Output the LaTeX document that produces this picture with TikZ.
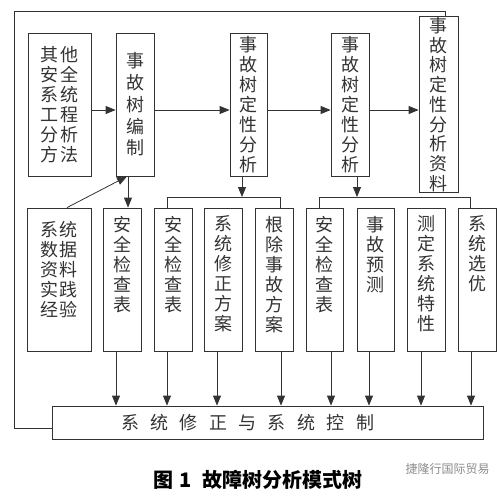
\documentclass[tikz,border=0pt]{standalone}
\usepackage{fontspec}
\newfontfamily\cjk{Noto Sans CJK SC}
\usetikzlibrary{arrows.meta}

\newcommand{\gp}{\hspace{11.4pt}}
\newcommand{\toptext}[2]{\parbox[c][127pt][t]{#1}{\centering #2}}

\begin{document}
\begin{tikzpicture}[
  x=1pt, y=-1pt,
  >={Triangle[length=10pt,width=8pt]},
  every node/.style={font=\cjk\fontsize{18}{20}\selectfont, text=black!80},
  box/.style={draw=black!80,line width=0.8pt,inner sep=1pt,minimum height=143pt,align=center},
  narrow/.style={box,minimum width=38pt},
  wire/.style={draw=black!80,line width=0.8pt},
  arrow/.style={wire,->}
]
  \useasboundingbox (0,0) rectangle (502,492);

  % top row
  \node[box,minimum width=63pt] (other) at (59.5,104.5)
    {其\hspace{2pt}他\\安\hspace{2pt}全\\系\hspace{2pt}统\\工\hspace{2pt}程\\分\hspace{2pt}析\\方\hspace{2pt}法};
  \node[narrow,font=\cjk\fontsize{18}{21.7}\selectfont] (build) at (135,104.5) {事\\故\\树\\编\\制};
  \node[narrow,minimum width=37pt] (qual1) at (248.5,104.5) {事\\故\\树\\定\\性\\分\\析};
  \node[narrow] (qual2) at (350,104.5) {事\\故\\树\\定\\性\\分\\析};
  \node[narrow,minimum width=39pt,minimum height=165pt,font=\cjk\fontsize{18}{19.7}\selectfont]
    (result) at (438.5,104.5) {事\\故\\树\\定\\性\\分\\析\\资\\料};

  % lower row
  \node[box,minimum width=64pt] (exp) at (59,279.5)
    {\toptext{44pt}{\vspace*{5pt}系\hspace{2pt}统\\数\hspace{2pt}据\\资\hspace{2pt}料\\实\hspace{2pt}践\\经\hspace{2pt}验}};
  \node[narrow] (chk1) at (122.5,279.5) {\toptext{20pt}{安\\全\\检\\查\\表}};
  \node[narrow] (chk2) at (173,279.5) {\toptext{20pt}{安\\全\\检\\查\\表}};
  \node[narrow] (revise) at (223,279.5) {\toptext{20pt}{系\\统\\修\\正\\方\\案}};
  \node[narrow] (elim) at (274,279.5) {\toptext{20pt}{根\\除\\事\\故\\方\\案}};
  \node[narrow,minimum width=37pt] (chk3) at (324.5,279.5) {\toptext{20pt}{安\\全\\检\\查\\表}};
  \node[narrow,minimum width=37pt] (pred) at (375.5,279.5) {\toptext{20pt}{事\\故\\预\\测}};
  \node[narrow] (measure) at (426,279.5) {\toptext{20pt}{测\\定\\系\\统\\特\\性}};
  \node[narrow] (opt) at (477,279.5) {\toptext{20pt}{系\\统\\选\\优}};

  % bottom box and caption
  \node[draw=black!80,line width=0.8pt,inner sep=1pt,minimum width=431pt,minimum height=33pt]
    (ctrl) at (267.5,422.5)
    {\makebox[425pt][l]{\hspace{66pt}系\gp 统\gp 修\gp 正\gp 与\gp 系\gp 统\gp 控\gp 制}};
  \node[anchor=west,font=\cjk\bfseries\fontsize{20}{24}\selectfont,text=black] (caption) at (150,480)
    {图\hspace{6pt}1\hspace{11pt}故障树分析模式树};
  \node[anchor=west,font=\cjk\fontsize{12}{14}\selectfont,text=black!45] (mark) at (402,469) {捷隆行国际贸易};

  \coordinate (busC) at (0,197);
  \coordinate (loopc) at (14,11);

  % main flow
  \draw[arrow] ([yshift=-5.5pt]other.east) -- ([yshift=-5.5pt]build.west);
  \draw[arrow] ([yshift=-5.5pt]build.east) -- ([yshift=-5.5pt]qual1.west);
  \draw[arrow] ([yshift=-5.5pt]qual1.east) -- ([yshift=-5.5pt]qual2.west);
  \draw[arrow] ([yshift=-5.5pt]qual2.east) -- ([yshift=-5.5pt]result.west);
  \draw[arrow] ([xshift=-7pt]build.south) -- ([xshift=-7pt]build.south |- chk1.north);
  \draw[arrow] ([xshift=8pt]exp.north) -- ([xshift=-8pt]build.south);

  % branches
  \draw[arrow] ([xshift=-6.5pt]qual1.south) -- ([xshift=-6.5pt]qual1.south |- busC);
  \draw[wire] ([xshift=-6pt]chk2.north) |- ([xshift=6pt]busC -| elim.north) -- ([xshift=6pt]elim.north);
  \draw[arrow] ([xshift=7pt]qual2.south) -- ([xshift=7pt]qual2.south |- busC);
  \draw[wire] ([xshift=-5.5pt]chk3.north) |- ([xshift=-7pt]busC -| opt.north) -- ([xshift=-7pt]opt.north);

  % into the control box
  \draw[arrow] ([xshift=-6.5pt]chk1.south) -- ([xshift=-6.5pt]chk1.south |- ctrl.north);
  \draw[arrow] ([xshift=-6pt]chk2.south) -- ([xshift=-6pt]chk2.south |- ctrl.north);
  \draw[arrow] ([xshift=-6pt]revise.south) -- ([xshift=-6pt]revise.south |- ctrl.north);
  \draw[arrow] ([xshift=7pt]elim.south) -- ([xshift=7pt]elim.south |- ctrl.north);
  \draw[arrow] ([xshift=6.5pt]chk3.south) -- ([xshift=6.5pt]chk3.south |- ctrl.north);
  \draw[arrow] ([xshift=-6.5pt]pred.south) -- ([xshift=-6.5pt]pred.south |- ctrl.north);
  \draw[arrow] ([xshift=-5pt]measure.south) -- ([xshift=-5pt]measure.south |- ctrl.north);
  \draw[arrow] ([xshift=-6pt]opt.south) -- ([xshift=-6pt]opt.south |- ctrl.north);

  % feedback loop
  \draw[wire] ([xshift=6.5pt]result.north) |- (loopc) |- ([yshift=-5.5pt]ctrl.west);
\end{tikzpicture}
\end{document}
